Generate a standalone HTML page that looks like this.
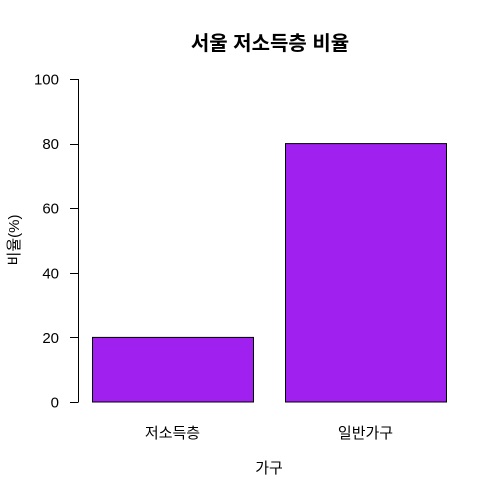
<!DOCTYPE html>
<html><head><meta charset="utf-8"><style>
html,body{margin:0;padding:0;background:#fff;}
svg{display:block;font-family:"Liberation Sans","Noto Sans CJK KR",sans-serif;}
</style></head><body>
<svg id="chart" width="500" height="500" viewBox="0 0 500 500">
<rect width="500" height="500" fill="#fff"/>
<text x="270" y="50" text-anchor="middle" font-size="20" font-weight="bold" fill="#000">서울 저소득층 비율</text>
<text x="269" y="473" text-anchor="middle" font-size="15" fill="#000">가구</text>
<text transform="translate(19,240) rotate(-90)" text-anchor="middle" font-size="15" fill="#000">비율(%)</text>
<g id="bars"></g>
<g id="yaxis"></g>
<g id="xlabels"></g>
</svg>
<script>
const categories = ["저소득층", "일반가구"];
const values = [20, 80];
const yTicks = [0, 20, 40, 60, 80, 100];
const NS = "http://www.w3.org/2000/svg";
function y(v){ return 402 - v * 3.23; }
function xLeft(i){ return 92 + i * 193; }
const barW = 161;
const bars = document.getElementById("bars");
categories.forEach((c,i)=>{
  const r = document.createElementNS(NS,"rect");
  
  
  r.setAttribute("x", xLeft(i)+0.5);
  r.setAttribute("y", y(values[i]));
  r.setAttribute("width", barW);
  r.setAttribute("height", y(0)-y(values[i]));
  r.setAttribute("fill", "#A020F0");
  r.setAttribute("stroke", "#000");
  r.setAttribute("stroke-width", "1");
  bars.appendChild(r);
  const t = document.createElementNS(NS,"text");
  
  
  t.setAttribute("x", xLeft(i)+barW/2);
  t.setAttribute("y", 438);
  t.setAttribute("text-anchor","middle");
  t.setAttribute("font-size","15");
  t.textContent = c;
  document.getElementById("xlabels").appendChild(t);
});
const ya = document.getElementById("yaxis");
const line = document.createElementNS(NS,"line");


line.setAttribute("x1",78.5); line.setAttribute("x2",78.5);
line.setAttribute("y1",y(yTicks[yTicks.length-1])); line.setAttribute("y2",y(yTicks[0]));
line.setAttribute("stroke","#000");
ya.appendChild(line);
yTicks.forEach(v=>{
  const tk = document.createElementNS(NS,"line");
  
  
  tk.setAttribute("x1",70); tk.setAttribute("x2",78.5);
  tk.setAttribute("y1",Math.round(y(v))+0.5); tk.setAttribute("y2",Math.round(y(v))+0.5);
  tk.setAttribute("stroke","#000");
  ya.appendChild(tk);
  const t = document.createElementNS(NS,"text");
  
  
  t.setAttribute("x",59);
  t.setAttribute("y",y(v)+5.5);
  t.setAttribute("text-anchor","end");
  t.setAttribute("font-size","15");
  t.textContent = v;
  ya.appendChild(t);
});
</script>
</body></html>
